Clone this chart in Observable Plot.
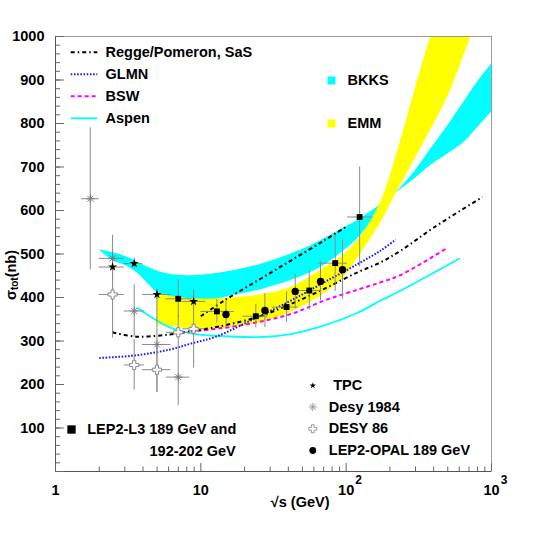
<!DOCTYPE html>
<html><head><meta charset="utf-8">
<script src="https://cdn.jsdelivr.net/npm/d3@7"></script>
<script src="https://cdn.jsdelivr.net/npm/@observablehq/plot@0.6"></script>
<style>
body{margin:0;background:#fff;}
svg{font-family:"Liberation Sans",Arial,Helvetica,sans-serif;}
</style></head><body><div id="chart"></div>
<script>
// ===== axes =====
const yTickLabels = [100,200,300,400,500,600,700,800,900,1000];
const yMajorTicks = [0,100,200,300,400,500,600,700,800,900,1000];
const yMinorTicks = d3.range(0, 1001, 20);
const xMajorTicks = [1,10,100,1000];
const xMinorTicks = [2,3,4,5,6,7,8,9,20,30,40,50,60,70,80,90,200,300,400,500,600,700,800,900];
const xTickMain = ["1","10","10","10"];
const xTickExpAt = [100,1000];
const xTickExp = ["2","3"];

// ===== bands =====
const bkksX = [2,2.5,3,3.6,4.3,5,6,7,8.5,10,12,14.5,18,24.6,32,41.7,55,70.6,97,120,164,220,294,380,500,648,800,1000];
const bkksA = [510,503,495,483,470,461,454,451,450,451,454,458,464,474,486,500,516,535,560,577,608,640,672,703,730,757,790,826];
const bkksB = [510,484,474,458,433,412,402,398,395,394,394,400,407,416,427,439,455,474,508,535,590,640,688,740,795,850,895,937];

const emmUpX = [4.99,6.7,8.54,11,14.4,19,24.6,41.6,70.3,91.3,120,152,186,235,297,380,446];
const emmUpY = [408,401,397,396,397,401,405,423,467,492,531,582,646,756,876,998,1083];
const emmLoX = [4.99,6.72,8.54,14.4,24.6,41.6,70.3,96.6,120,140,173,226,294,380,498,615,846];
const emmLoY = [336,332,327,329,340,366,408,447,490,524,572,646,715,784,860,937,1060];

// ===== model curves =====
const regge1X = [2.47,3.58,6.06,9.25,12.7,14.5,24.6,41.7,70.6,120,173,238,406,867];
const regge1Y = [320,310,315,324,332,336,355,385,420,458,481,508,562,631];
const regge2X = [10,14.5,24.6,41.7,70.6,99];
const regge2Y = [357,393,439,485,531,562];
const glmnX = [2.0,3.58,6.06,8.55,12.7,24.6,41.7,70.6,120,173,219];
const glmnY = [261,267,280,294,310,355,393,435,477,508,533];
const bswX = [8.5,10,18.8,41.7,70.6,120,173,238,485];
const bswY = [322,324,336,362,393,418,435,452,512];
const aspenX = [3.68,4.66,6.06,7.9,10,14.5,24.6,41.7,70.6,120,173,238,598];
const aspenY = [376,353,332,320,314,311,309,316,336,365,393,416,489];

// ===== measurements =====
const tpcX = [2.47,3.48,4.99,8.92];
const tpcY = [470,478,407,391];
const tpcErr = [12,12,12,15];
const tpcXlo = [2.0,2.97,3.97,7.5];
const tpcXhi = [2.97,3.97,6.23,10.8];

const desy84X = [1.735,2.47,3.48,4.99,6.99];
const desy84Y = [627,490,369,292,217];
const desy84Err = [163,53,60,110,65];
const desy84Xlo = [1.51,2.0,2.97,3.97,5.8];
const desy84Xhi = [2.0,2.97,4.08,6.23,8.4];

const desy86X = [2.47,3.48,4.99,6.99,8.92];
const desy86Y = [407,245,234,320,328];
const desy86Err = [100,58,52,38,90];
const desy86Xlo = [2.0,2.97,3.97,5.8,7.5];
const desy86Xhi = [2.97,4.08,6.23,8.4,10.8];

const l3X = [6.99,12.9,23.9,38.9,55.7,84.0,123.8];
const l3Y = [397,368,357,378,416,479,585];
const l3Err = [44,27,27,35,45,65,115];
const l3Xlo = [5.75,10,19.5,31,47,65,102];
const l3Xhi = [8.77,17,29,47,68,102,152];

const opalX = [14.9,27.6,44.6,66.6,94.4];
const opalY = [361,370,414,437,464];
const opalErr = [30,39,40,45,68];

// ===== legend texts =====
const lineLegend = ["Regge/Pomeron, SaS","GLMN","BSW","Aspen"];
const bandLegend = ["BKKS","EMM"];
const dataLegend = ["TPC","Desy 1984","DESY 86","LEP2-OPAL 189 GeV"];
const l3Legend = ["LEP2-L3 189 GeV and","192-202 GeV"];

// ===== build =====
const toBand = (xs, a, b) => xs.map((x,i)=>({x, a:a[i], b:b[i]}));
const toLine = (xs, ys) => xs.map((x,i)=>({x, y:ys[i]}));
const toPts = (xs, ys, e, lo, hi) => xs.map((x,i)=>({x, y:ys[i], e:e[i], lo: lo? lo[i]:null, hi: hi? hi[i]:null}));

const bkks = toBand(bkksX, bkksA, bkksB);
const emm = emmUpX.map((x,i)=>({ux:x, uy:emmUpY[i], lx:emmLoX[i], ly:emmLoY[i]}));
const tpc = toPts(tpcX,tpcY,tpcErr,tpcXlo,tpcXhi);
const d84 = toPts(desy84X,desy84Y,desy84Err,desy84Xlo,desy84Xhi);
const d86 = toPts(desy86X,desy86Y,desy86Err,desy86Xlo,desy86Xhi);
const l3 = toPts(l3X,l3Y,l3Err,l3Xlo,l3Xhi);
const opal = toPts(opalX,opalY,opalErr);

const star8 = {draw(ctx, size){ const r=Math.sqrt(size/Math.PI); const d=r*0.7071;
  ctx.moveTo(-r,0);ctx.lineTo(r,0);ctx.moveTo(0,-r);ctx.lineTo(0,r);
  ctx.moveTo(-d,-d);ctx.lineTo(d,d);ctx.moveTo(-d,d);ctx.lineTo(d,-d);}};
const openCross = {draw(ctx, size){ const r=Math.sqrt(size/Math.PI); const a=r/3;
  ctx.moveTo(-a,-r);ctx.lineTo(a,-r);ctx.lineTo(a,-a);ctx.lineTo(r,-a);ctx.lineTo(r,a);ctx.lineTo(a,a);
  ctx.lineTo(a,r);ctx.lineTo(-a,r);ctx.lineTo(-a,a);ctx.lineTo(-r,a);ctx.lineTo(-r,-a);ctx.lineTo(-a,-a);ctx.closePath();}};

const FS = 14.5;
const txt = {fontSize: FS, fontWeight: "bold", fill: "black", lineAnchor: "middle", fontFamily: "Liberation Sans, Arial, sans-serif"};
const errColor = "#8a8a8a";
const errMarks = (d, withX=true) => [
  Plot.ruleX(d, {x:"x", y1: p=>p.y-p.e, y2: p=>p.y+p.e, stroke: errColor, strokeWidth: 1}),
  ...(withX ? [Plot.ruleY(d, {y:"y", x1:"lo", x2:"hi", stroke: errColor, strokeWidth: 1})] : [])
];
const frameW = 545-55-54, frameH = 539-36-68;

// line styles (shared by curves and legend samples)
const sty = {
  regge: {stroke:"black", strokeWidth:2, strokeDasharray:"4 3 1.5 3", strokeLinecap:"butt"},
  glmn:  {stroke:"#1c1cff", strokeWidth:2, strokeDasharray:"1.6 1.6", strokeLinecap:"butt"},
  bsw:   {stroke:"#ff00ff", strokeWidth:2, strokeDasharray:"4 3", strokeLinecap:"butt"},
  aspen: {stroke:"#00ffff", strokeWidth:1.8}
};
const legendStyles = [sty.regge, sty.glmn, sty.bsw, sty.aspen];

// legend helpers (pixel offsets from the top-left corner of the frame)
const legText = (s, dx, dy) => Plot.text([s], {frameAnchor:"top-left", dx, dy, textAnchor:"start", text:d=>d, ...txt});
const legDot = (dx, dy, o) => Plot.dot([0], {frameAnchor:"top-left", dx, dy, ...o});

const legendMarks = [
  ...lineLegend.map((s,i)=>legText(s, 50, 16.3+i*22)),
  ...bandLegend.map((s,i)=>legDot(276, 44+i*43, {symbol:"square", r:4.5, fill:["#00ffff","#ffff00"][i]})),
  ...bandLegend.map((s,i)=>legText(s, 292, 44+i*43)),
  legDot(257.3, 349, {symbol:"star", r:2, fill:"black"}),
  legDot(257.3, 370.5, {symbol:star8, r:4, fill:"none", stroke:"#999", strokeWidth:1}),
  legDot(257.3, 392.3, {symbol:openCross, r:4, fill:"white", stroke:"#999", strokeWidth:1}),
  legDot(257.3, 414, {symbol:"circle", r:3.4, fill:"black"}),
  ...dataLegend.map((s,i)=>legText(s, i===0 ? 277.7 : 273.3, [349,370.5,392.3,414][i])),
  legDot(16, 393, {symbol:"square", r:4.7, fill:"black"}),
  legText(l3Legend[0], 31.7, 393),
  legText(l3Legend[1], 94, 414.5)
];

const plot = Plot.plot({
  width: 545, height: 539,
  marginLeft: 55, marginRight: 54, marginTop: 36, marginBottom: 68,
  style: {background: "white", fontFamily: "Liberation Sans, Arial, sans-serif"},
  x: {type: "log", domain: [1, 1000], axis: null},
  y: {domain: [0, 1000], axis: null},
  marks: [
    Plot.areaY(bkks, {x:"x", y1:"a", y2:"b", fill:"#00ffff", curve:"catmull-rom", clip:true}),
    Plot.area(emm, {x1:"lx", y1:"ly", x2:"ux", y2:"uy", fill:"#ffff00", curve:"catmull-rom", clip:true}),
    Plot.line(toLine(aspenX, aspenY), {x:"x", y:"y", ...sty.aspen, curve:"catmull-rom", clip:true}),
    Plot.line(toLine(bswX, bswY), {x:"x", y:"y", ...sty.bsw, curve:"catmull-rom", clip:true}),
    Plot.line(toLine(glmnX, glmnY), {x:"x", y:"y", ...sty.glmn, curve:"catmull-rom", clip:true}),
    Plot.line(toLine(regge1X, regge1Y), {x:"x", y:"y", ...sty.regge, curve:"catmull-rom", clip:true}),
    Plot.line(toLine(regge2X, regge2Y), {x:"x", y:"y", ...sty.regge, curve:"catmull-rom", clip:true}),
    ...errMarks(d84), ...errMarks(d86), ...errMarks(tpc), ...errMarks(l3), ...errMarks(opal, false),
    Plot.dot(d84, {x:"x", y:"y", symbol: star8, r:4.2, fill:"none", stroke:"#777", strokeWidth:0.9}),
    Plot.dot(d86, {x:"x", y:"y", symbol: openCross, r:4.6, fill:"white", stroke:"#888", strokeWidth:1}),
    Plot.dot(tpc, {x:"x", y:"y", symbol:"star", r:2.8, fill:"black", stroke:"none"}),
    Plot.dot(l3, {x:"x", y:"y", symbol:"square", r:3.3, fill:"black", stroke:"none"}),
    Plot.dot(opal, {x:"x", y:"y", symbol:"circle", r:3.7, fill:"black", stroke:"none"}),
    // frame & axes
    Plot.frame({stroke:"#9a9a9a", strokeWidth:1}),
    Plot.ruleX([1], {stroke:"#555"}),
    Plot.ruleY([0], {stroke:"#555"}),
    Plot.tickY(yMinorTicks, {y: d=>d, insetRight: frameW-5, stroke:"#666"}),
    Plot.tickY(yMajorTicks, {y: d=>d, insetRight: frameW-9, stroke:"#666"}),
    Plot.tickX(xMinorTicks, {x: d=>d, insetTop: frameH-4.5, stroke:"#666"}),
    Plot.tickX(xMajorTicks, {x: d=>d, insetTop: frameH-8, stroke:"#666"}),
    Plot.text(yTickLabels, {y: d=>d, frameAnchor:"left", dx:-11, textAnchor:"end", text: d=>String(d), ...txt}),
    Plot.text(xMajorTicks, {x: d=>d, frameAnchor:"bottom", dy:18.5, textAnchor:"middle", text: (d,i)=>xTickMain[i], ...txt}),
    Plot.text(xTickExpAt, {x: d=>d, frameAnchor:"bottom", dx:12.5, dy:9, textAnchor:"middle", text: (d,i)=>xTickExp[i], ...txt, fontSize:12}),
    Plot.text(["√s (GeV)"], {frameAnchor:"bottom", dx:56, dy:31, textAnchor:"end", text: d=>d, ...txt}),
    ...legendMarks
  ]
});
document.getElementById("chart").appendChild(plot);

// legend line samples and rotated y title with subscript
const svg = d3.select(plot);
legendStyles.forEach((s,i)=>{
  const y = 36+16.3+i*22;
  svg.append("line").attr("x1",70.7).attr("x2",97.3).attr("y1",y).attr("y2",y)
    .attr("stroke",s.stroke).attr("stroke-width",s.strokeWidth)
    .attr("stroke-dasharray",s.strokeDasharray || null).attr("stroke-linecap","butt");
});
const yt = svg.append("text").attr("transform","translate(15.5,275) rotate(-90)")
  .attr("font-size",FS).attr("font-weight","bold").attr("fill","black")
  .attr("font-family","Liberation Sans, Arial, sans-serif");
yt.append("tspan").text("σ");
yt.append("tspan").attr("font-size",10).attr("dy",2.5).text("tot");
yt.append("tspan").attr("dy",-2.5).text("(nb)");
</script></body></html>
